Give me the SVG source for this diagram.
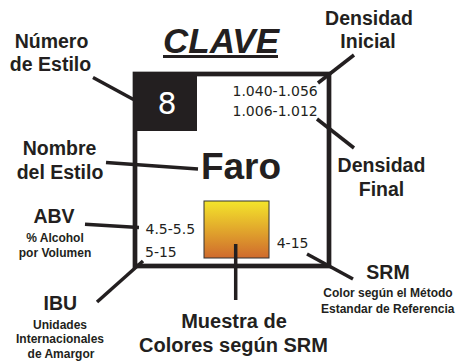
<svg xmlns="http://www.w3.org/2000/svg" width="463" height="363" viewBox="0 0 463 363">
<style>
.lbl{font-family:"Liberation Sans",Arial,sans-serif;font-weight:700;font-size:19.5px;fill:#231f20;text-anchor:middle}
.big{font-family:"Liberation Sans",Arial,sans-serif;font-weight:700;font-size:20px;fill:#231f20;text-anchor:middle}
.sm{font-family:"Liberation Sans",Arial,sans-serif;font-weight:700;font-size:12px;fill:#231f20;text-anchor:middle}
.num{font-family:"DejaVu Sans",sans-serif;font-size:14px;fill:#231f20}
.conn line{stroke:#231f20;stroke-width:3.5;stroke-linecap:butt}
</style>
<defs>
<linearGradient id="srm" x1="0" y1="0" x2="0" y2="1">
<stop offset="0" stop-color="#f4e52b"/>
<stop offset="1" stop-color="#cf6a2d"/>
</linearGradient>
</defs>
<rect width="463" height="363" fill="#fff"/>
<g id="title">
<text x="221" y="53" style="font-family:'Liberation Sans',Arial,sans-serif;font-weight:700;font-style:italic;font-size:35px;fill:#231f20" text-anchor="middle">CLAVE</text>
<line x1="163" y1="56.5" x2="278" y2="56.5" stroke="#231f20" stroke-width="3"/>
</g>
<g id="frame">
<rect x="135" y="74" width="194" height="192" fill="none" stroke="#231f20" stroke-width="4.7"/>
<rect x="133" y="72" width="64" height="59" fill="#231f20"/>
<text x="167" y="114" style="font-family:'DejaVu Sans',sans-serif;font-size:30px;fill:#fff" text-anchor="middle">8</text>
</g>
<g id="swatch">
<rect x="204" y="201" width="65" height="57" fill="url(#srm)" stroke="#333" stroke-width="1"/>
</g>
<g id="connectors" class="conn">
<line x1="93" y1="77.5" x2="133.5" y2="99.5"/>
<line x1="354" y1="55" x2="318" y2="83"/>
<line x1="317" y1="119" x2="354" y2="148"/>
<line x1="106" y1="162.5" x2="198" y2="169"/>
<line x1="85" y1="224.3" x2="139" y2="227.5"/>
<line x1="97" y1="302" x2="143" y2="261"/>
<line x1="307" y1="254" x2="353" y2="279"/>
<line x1="235.7" y1="244" x2="235.7" y2="300" stroke-width="4"/>
</g>
<g id="numero-estilo">
<text class="lbl" x="51.5" y="48">Número</text>
<text class="lbl" x="50.5" y="71">de Estilo</text>
</g>
<g id="densidad-inicial">
<text class="lbl" x="369" y="25">Densidad</text>
<text class="lbl" x="368" y="48">Inicial</text>
<text class="num" x="232.5" y="96">1.040-1.056</text>
<text class="num" x="232.5" y="116">1.006-1.012</text>
</g>
<g id="densidad-final">
<text class="lbl" x="381.5" y="171.5">Densidad</text>
<text class="lbl" x="381.5" y="196">Final</text>
</g>
<g id="nombre-estilo">
<text class="lbl" x="59.5" y="155">Nombre</text>
<text class="lbl" x="60" y="179">del Estilo</text>
<text x="241" y="178.5" style="font-family:'Liberation Sans',Arial,sans-serif;font-weight:700;font-size:37px;fill:#231f20" text-anchor="middle">Faro</text>
</g>
<g id="abv">
<text class="lbl" x="54" y="222.5">ABV</text>
<text class="sm" x="55" y="241.5">% Alcohol</text>
<text class="sm" x="55" y="256.5">por Volumen</text>
<text class="num" x="145.5" y="234.3">4.5-5.5</text>
</g>
<g id="ibu">
<text class="lbl" x="60.3" y="310">IBU</text>
<text class="sm" x="60" y="329">Unidades</text>
<text class="sm" x="60" y="343.3">Internacionales</text>
<text class="sm" x="61" y="358.3">de Amargor</text>
<text class="num" x="145" y="256.7">5-15</text>
</g>
<g id="srm-label">
<text class="lbl" x="388" y="279.3">SRM</text>
<text class="sm" x="388" y="296.7">Color según el Método</text>
<text class="sm" x="387.7" y="312.7">Estandar de Referencia</text>
<text class="num" x="276.7" y="248.3">4-15</text>
</g>
<g id="muestra">
<text class="big" x="234" y="328">Muestra de</text>
<text class="big" x="233.5" y="352">Colores según SRM</text>
</g>
</svg>
